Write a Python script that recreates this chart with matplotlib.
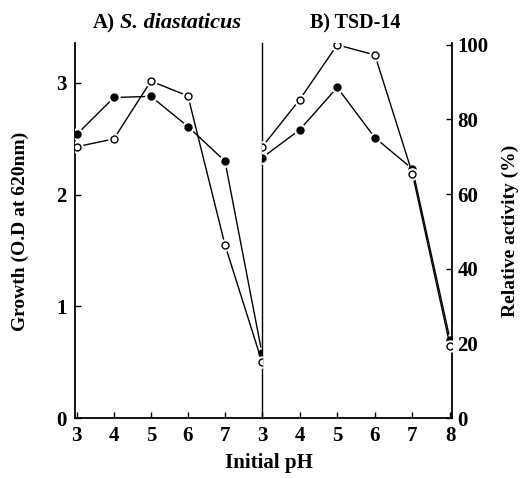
import matplotlib
matplotlib.use("Agg")
import matplotlib.pyplot as plt

plt.rcParams['font.family'] = ['Liberation Serif', 'DejaVu Serif']
plt.rcParams['font.weight'] = 'bold'

ph = [3, 4, 5, 6, 7, 8]

# A) S. diastaticus
growth_a = [2.54, 2.87, 2.88, 2.61, 2.30, 0.58]
activity_a = [72.7, 74.8, 90.3, 86.3, 46.4, 15.0]
# B) TSD-14
growth_b = [2.33, 2.58, 2.96, 2.51, 2.23, 0.70]
activity_b = [72.6, 85.3, 100.0, 97.3, 65.4, 19.3]

growth_ticks = [0, 1, 2, 3]
activity_ticks = [0, 20, 40, 60, 80, 100]

W, H = 521, 478
fig = plt.figure(figsize=(W / 100, H / 100), dpi=100)

ax1 = fig.add_axes([75 / W, 60 / H, 187 / W, 375 / H])
ax2 = fig.add_axes([262 / W, 60 / H, 190 / W, 375 / H])
ax1r = ax1.twinx()
ax2r = ax2.twinx()

G_TOP = 3.358
A_TOP = 100.5


def series(ax, x, y, filled):
    ax.plot(x, y, color='black', lw=1.0, zorder=2)
    ax.plot(x, y, ls='none', marker='o', ms=8, mfc='white', mec='white', zorder=3)
    ax.plot(x, y, ls='none', marker='o', ms=5, mew=1.0, mec='black',
            mfc='black' if filled else 'white', zorder=4)


series(ax1, ph, growth_a, True)
series(ax1r, ph, activity_a, False)
series(ax2, ph, growth_b, True)
series(ax2r, ph, activity_b, False)

for ax in (ax1, ax1r):
    ax.set_xlim(2.95, 8.0)
for ax in (ax2, ax2r):
    ax.set_xlim(3.0, 8.05)
ax1.set_ylim(0, G_TOP)
ax2.set_ylim(0, G_TOP)
ax1r.set_ylim(0, A_TOP)
ax2r.set_ylim(0, A_TOP)

for ax in (ax1, ax1r, ax2, ax2r):
    ax.spines['top'].set_visible(False)
    for s in ax.spines.values():
        s.set_linewidth(1.3)
    ax.set_facecolor('none')

ax1.spines['right'].set_visible(False)
ax1r.spines['left'].set_visible(False)
ax1r.spines['bottom'].set_visible(False)
ax1r.spines['right'].set_visible(False)
ax1r.set_yticks([])
ax2.spines['left'].set_linewidth(1.0)
ax2.spines['right'].set_visible(False)
ax2r.spines['left'].set_visible(False)
ax2r.spines['bottom'].set_visible(False)

ax1.set_yticks(growth_ticks)
ax1.set_xticks([3, 4, 5, 6, 7])
ax2.set_xticks(ph)
ax2.set_yticks([])
ax2r.set_yticks(activity_ticks)

ax1.tick_params(axis='both', direction='in', length=4, width=1.0, labelsize=15, pad=6)
ax2.tick_params(axis='x', direction='in', length=4, width=1.0, labelsize=15, pad=6)
ax2r.tick_params(axis='y', direction='in', length=4, width=1.0, labelsize=15, pad=4)

fig.text(20 / W, 1 - 231 / H, 'Growth (O.D at 620nm)', rotation=90, ha='center',
         va='center', fontsize=14, fontweight='bold')
fig.text(510 / W, 1 - 231 / H, 'Relative activity (%)', rotation=90, ha='center',
         va='center', fontsize=14, fontweight='bold')
fig.text(269 / W, 1 - 463 / H, 'Initial pH', ha='center', va='center',
         fontsize=15, fontweight='bold')

fig.text(115 / W, 1 - 23 / H, 'A)', ha='right', va='center', fontsize=15, fontweight='bold')
fig.text(120 / W, 1 - 23 / H, 'S. diastaticus', ha='left', va='center',
         fontsize=16, fontweight='bold', style='italic')
fig.text(355 / W, 1 - 23 / H, 'B) TSD-14', ha='center', va='center',
         fontsize=14.5, fontweight='bold')

fig.savefig('out.png', dpi=100)
